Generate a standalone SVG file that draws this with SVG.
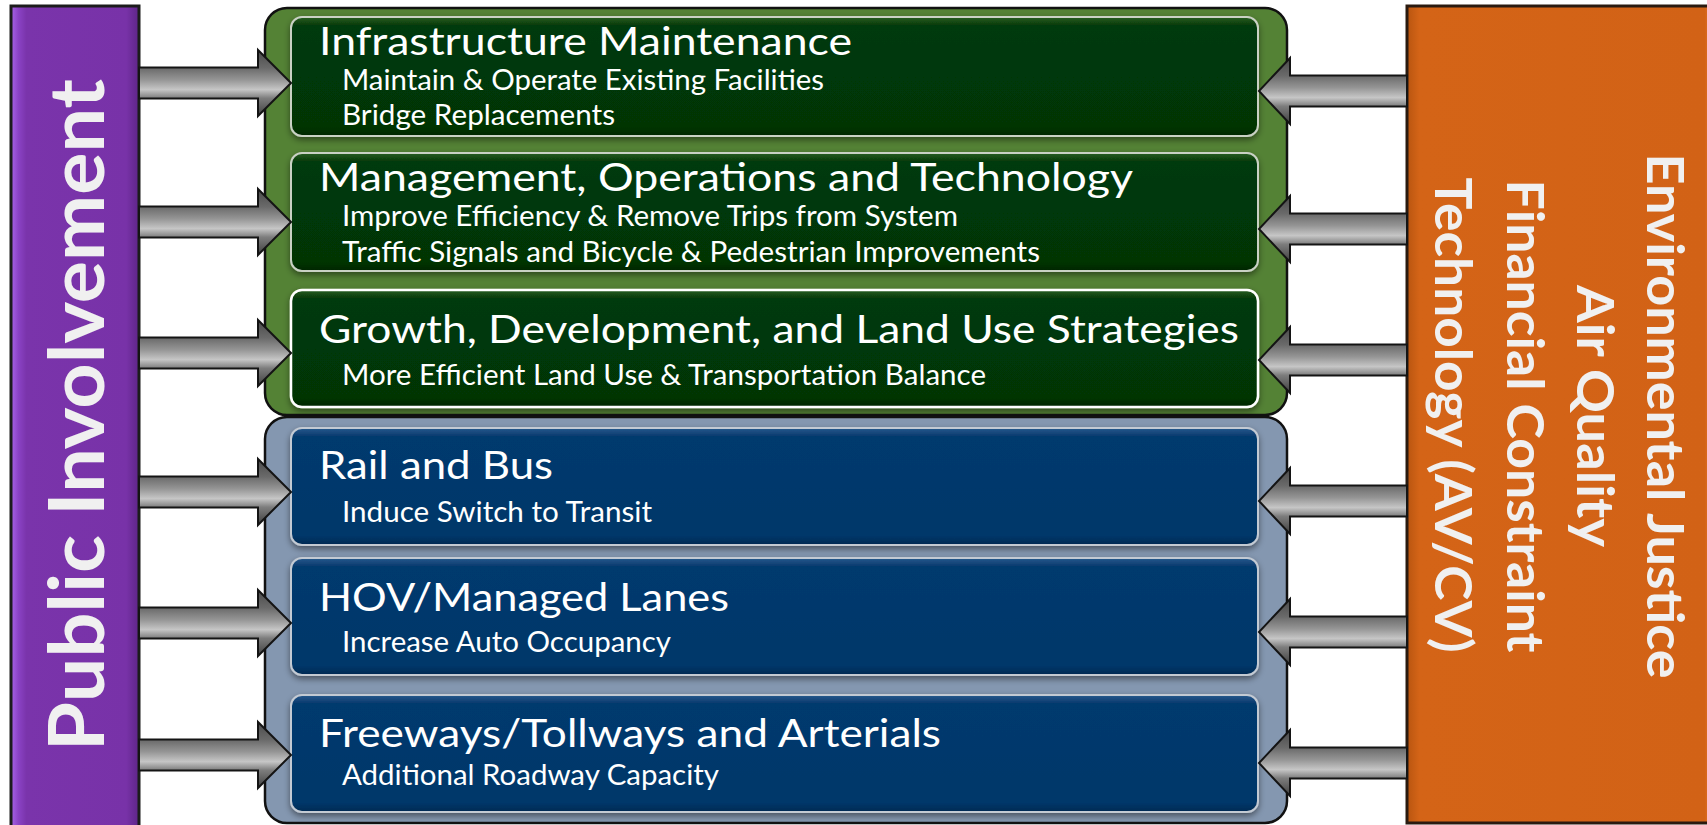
<svg xmlns="http://www.w3.org/2000/svg" width="1707" height="825" viewBox="0 0 1707 825">
<style>
.title{font-family:Lato,"Open Sans","Liberation Sans",sans-serif;font-size:39px;fill:#ffffff}
.sub{font-family:Lato,"Open Sans","Liberation Sans",sans-serif;font-size:28px;fill:#ffffff}
.bar{font-family:Lato,"Open Sans","Liberation Sans",sans-serif;font-weight:bold;fill:#f0f0f0}
.cont{stroke:#111;stroke-width:2.5}
.gbox{fill:url(#gGreen);stroke:#c9d1c4;stroke-width:2;filter:url(#sh)}
.bbox{fill:url(#gBlue);stroke:#c3cad3;stroke-width:2;filter:url(#sh)}
.arrow{fill:url(#gArrow);stroke:#141414;stroke-width:2;stroke-linejoin:miter}
.hl{fill:none;stroke:#ffffff;stroke-opacity:0.22;stroke-width:3}
</style>
<defs>
<linearGradient id="gGreen" x1="0" y1="0" x2="0" y2="1">
<stop offset="0" stop-color="#2a5e24"/>
<stop offset="0.07" stop-color="#053a08"/>
<stop offset="0.92" stop-color="#033506"/>
<stop offset="1" stop-color="#022603"/>
</linearGradient>
<linearGradient id="gBlue" x1="0" y1="0" x2="0" y2="1">
<stop offset="0" stop-color="#2a5a8e"/>
<stop offset="0.07" stop-color="#063a6e"/>
<stop offset="0.92" stop-color="#05376a"/>
<stop offset="1" stop-color="#032a52"/>
</linearGradient>
<linearGradient id="gArrow" x1="0" y1="0" x2="0" y2="1">
<stop offset="0" stop-color="#4a4a4a"/>
<stop offset="0.27" stop-color="#6a6a6a"/>
<stop offset="0.45" stop-color="#959595"/>
<stop offset="0.6" stop-color="#c6c6c6"/>
<stop offset="0.73" stop-color="#7d7d7d"/>
<stop offset="1" stop-color="#3f3f3f"/>
</linearGradient>
<linearGradient id="gPurple" x1="0" y1="0" x2="1" y2="0">
<stop offset="0" stop-color="#a864e6"/>
<stop offset="0.06" stop-color="#8a42c4"/>
<stop offset="0.12" stop-color="#7a34ab"/>
<stop offset="0.9" stop-color="#7832a8"/>
<stop offset="1" stop-color="#5e2588"/>
</linearGradient>
<linearGradient id="gOrange" x1="0" y1="0" x2="1" y2="0">
<stop offset="0" stop-color="#b85510"/>
<stop offset="0.04" stop-color="#d46417"/>
<stop offset="0.96" stop-color="#d26216"/>
<stop offset="1" stop-color="#f0893a"/>
</linearGradient>
<filter id="sh" x="-5%" y="-10%" width="110%" height="125%">
<feDropShadow dx="0" dy="3" stdDeviation="3" flood-color="#000" flood-opacity="0.45"/>
</filter>
</defs>

<g id="public-involvement">
<rect x="11" y="6" width="128" height="825" fill="url(#gPurple)" stroke="#1c1c1c" stroke-width="3"/>
<text class="bar" font-size="77" text-anchor="middle" transform="translate(104,415) rotate(-90)" textLength="672" lengthAdjust="spacingAndGlyphs">Public Involvement</text>
</g>

<g id="constraints">
<rect x="1407" y="6" width="310" height="817" fill="url(#gOrange)" stroke="#2a1a10" stroke-width="3"/>
<text class="bar" font-size="52" text-anchor="middle" transform="translate(1647,416) rotate(90)" textLength="525" lengthAdjust="spacingAndGlyphs">Environmental Justice</text>
<text class="bar" font-size="52" text-anchor="middle" transform="translate(1577,416) rotate(90)" textLength="262" lengthAdjust="spacingAndGlyphs">Air Quality</text>
<text class="bar" font-size="52" text-anchor="middle" transform="translate(1507,416) rotate(90)" textLength="473" lengthAdjust="spacingAndGlyphs">Financial Constraint</text>
<text class="bar" font-size="52" text-anchor="middle" transform="translate(1435,415) rotate(90)" textLength="475" lengthAdjust="spacingAndGlyphs">Technology (AV/CV)</text>
</g>

<g id="green-group">
<rect class="cont" x="265" y="8" width="1022" height="407" rx="22" fill="#548235"/>
</g>
<g id="blue-group">
<rect class="cont" x="265" y="417" width="1022" height="406" rx="22" fill="#8497b0"/>
</g>

<g id="infrastructure-maintenance">
<rect class="gbox" x="291" y="17" width="967" height="119" rx="11"/>
<text class="title" x="319" y="55" textLength="533" lengthAdjust="spacingAndGlyphs">Infrastructure Maintenance</text>
<text class="sub" x="342" y="90" textLength="482" lengthAdjust="spacingAndGlyphs">Maintain &amp; Operate Existing Facilities</text>
<text class="sub" x="342" y="125" textLength="273" lengthAdjust="spacingAndGlyphs">Bridge Replacements</text>
</g>

<g id="management-operations">
<rect class="gbox" x="291" y="153" width="967" height="118" rx="11"/>
<text class="title" x="319" y="191" textLength="814" lengthAdjust="spacingAndGlyphs">Management, Operations and Technology</text>
<text class="sub" x="342" y="226" textLength="616" lengthAdjust="spacingAndGlyphs">Improve Efficiency &amp; Remove Trips from System</text>
<text class="sub" x="342" y="262" textLength="698" lengthAdjust="spacingAndGlyphs">Traffic Signals and Bicycle &amp; Pedestrian Improvements</text>
</g>

<g id="growth-development">
<rect x="291" y="290" width="967" height="117" rx="11" fill="url(#gGreen)" stroke="#ffffff" stroke-width="2.5" filter="url(#sh)"/>
<text class="title" x="319" y="343" textLength="920" lengthAdjust="spacingAndGlyphs">Growth, Development, and Land Use Strategies</text>
<text class="sub" x="342" y="385" textLength="644" lengthAdjust="spacingAndGlyphs">More Efficient Land Use &amp; Transportation Balance</text>
</g>

<g id="rail-and-bus">
<rect class="bbox" x="291" y="428" width="967" height="117" rx="11"/>
<text class="title" x="319" y="479" textLength="234" lengthAdjust="spacingAndGlyphs">Rail and Bus</text>
<text class="sub" x="342" y="522" textLength="310" lengthAdjust="spacingAndGlyphs">Induce Switch to Transit</text>
</g>

<g id="hov-managed-lanes">
<rect class="bbox" x="291" y="558" width="967" height="117" rx="11"/>
<text class="title" x="319" y="611" textLength="410" lengthAdjust="spacingAndGlyphs">HOV/Managed Lanes</text>
<text class="sub" x="342" y="652" textLength="329" lengthAdjust="spacingAndGlyphs">Increase Auto Occupancy</text>
</g>

<g id="freeways-tollways">
<rect class="bbox" x="291" y="695" width="967" height="117" rx="11"/>
<text class="title" x="319" y="747" textLength="622" lengthAdjust="spacingAndGlyphs">Freeways/Tollways and Arterials</text>
<text class="sub" x="342" y="785" textLength="377" lengthAdjust="spacingAndGlyphs">Additional Roadway Capacity</text>
</g>

<g id="connectors">
<path class="arrow" d="M139,67.5 L258,67.5 L258,50 L291,83 L258,116 L258,98.5 L139,98.5 Z"/>
<path class="arrow" d="M139,206.5 L258,206.5 L258,189 L291,222 L258,255 L258,237.5 L139,237.5 Z"/>
<path class="arrow" d="M139,337.5 L258,337.5 L258,320 L291,353 L258,386 L258,368.5 L139,368.5 Z"/>
<path class="arrow" d="M139,476.5 L258,476.5 L258,459 L291,492 L258,525 L258,507.5 L139,507.5 Z"/>
<path class="arrow" d="M139,607.5 L258,607.5 L258,590 L291,623 L258,656 L258,638.5 L139,638.5 Z"/>
<path class="arrow" d="M139,739.5 L258,739.5 L258,722 L291,755 L258,788 L258,770.5 L139,770.5 Z"/>
<path class="arrow" d="M1407,75.5 L1290,75.5 L1290,58 L1259,91 L1290,124 L1290,106.5 L1407,106.5 Z"/>
<path class="arrow" d="M1407,213.5 L1290,213.5 L1290,196 L1259,229 L1290,262 L1290,244.5 L1407,244.5 Z"/>
<path class="arrow" d="M1407,344.5 L1290,344.5 L1290,327 L1259,360 L1290,393 L1290,375.5 L1407,375.5 Z"/>
<path class="arrow" d="M1407,485.5 L1290,485.5 L1290,468 L1259,501 L1290,534 L1290,516.5 L1407,516.5 Z"/>
<path class="arrow" d="M1407,616.5 L1290,616.5 L1290,599 L1259,632 L1290,665 L1290,647.5 L1407,647.5 Z"/>
<path class="arrow" d="M1407,747.5 L1290,747.5 L1290,730 L1259,763 L1290,796 L1290,778.5 L1407,778.5 Z"/>
</g>
</svg>
